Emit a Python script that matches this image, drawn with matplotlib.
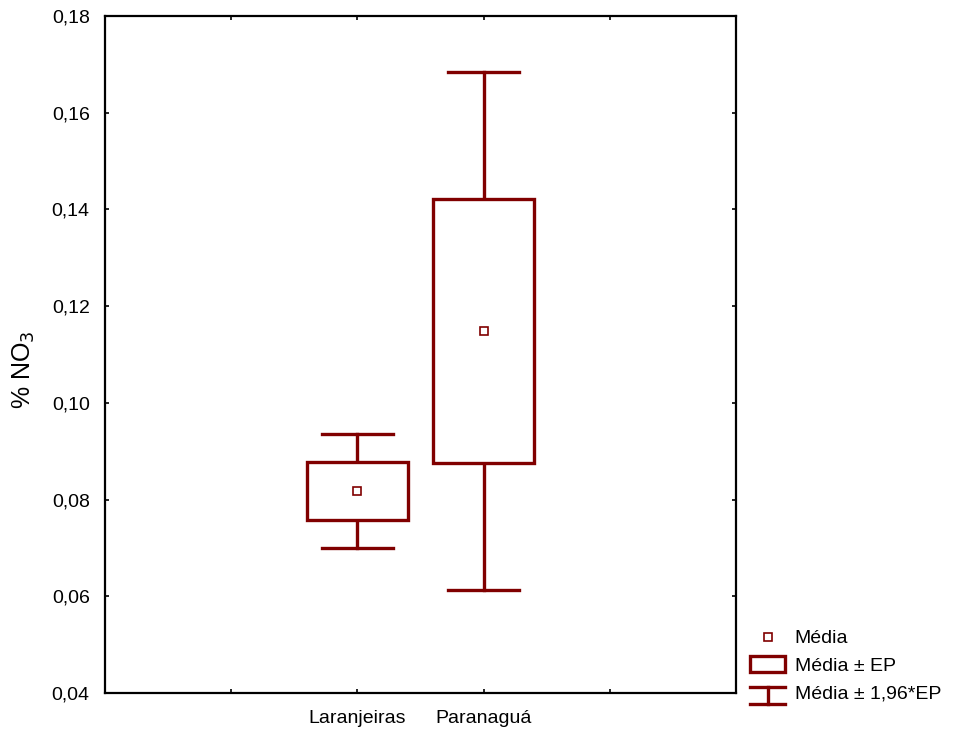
import matplotlib
matplotlib.use("Agg")
import matplotlib.pyplot as plt
from matplotlib.lines import Line2D
from matplotlib.patches import Rectangle
from matplotlib.legend_handler import HandlerBase

plt.rcParams['font.family'] = ['Liberation Sans', 'DejaVu Sans']

categories = ["Laranjeiras", "Paranaguá"]
means = [0.0818, 0.1149]
std_errors = [0.0060, 0.0273]
ci_factor = 1.96
yticks = [0.04, 0.06, 0.08, 0.10, 0.12, 0.14, 0.16, 0.18]
ytick_labels = ["0,04", "0,06", "0,08", "0,10", "0,12", "0,14", "0,16", "0,18"]

color = "#800000"
positions = [2, 3]
box_w = 0.8
cap_w = 0.56
lw = 2.4

fig = plt.figure(figsize=(9.57, 7.29), dpi=100)
ax = fig.add_axes([0.1097, 0.0494, 0.6594, 0.9287])

for pos, m, se in zip(positions, means, std_errors):
    lo, hi = m - se, m + se
    wlo, whi = m - ci_factor * se, m + ci_factor * se
    ax.add_patch(Rectangle((pos - box_w / 2, lo), box_w, hi - lo,
                           facecolor="white", edgecolor=color, lw=lw, zorder=3))
    ax.plot([pos, pos], [hi, whi], color=color, lw=lw, zorder=2)
    ax.plot([pos, pos], [wlo, lo], color=color, lw=lw, zorder=2)
    ax.plot([pos - cap_w / 2, pos + cap_w / 2], [whi, whi], color=color, lw=lw, zorder=2)
    ax.plot([pos - cap_w / 2, pos + cap_w / 2], [wlo, wlo], color=color, lw=lw, zorder=2)
    ax.plot([pos], [m], marker="s", ms=6, mfc="white", mec=color, mew=1.2, zorder=4)

ax.set_xlim(0, 5)
ax.set_ylim(0.04, 0.18)
ax.set_xticks([1, 2, 3, 4])
ax.set_xticklabels(["", categories[0], categories[1], ""], fontsize=14)
ax.set_yticks(yticks)
ax.set_yticklabels(ytick_labels, fontsize=14)
ax.tick_params(direction="in", length=3, width=1.2, top=True, right=True)
ax.tick_params(axis="y", pad=11)
ax.tick_params(axis="x", pad=12)
for s in ax.spines.values():
    s.set_linewidth(1.6)
ax.set_ylabel("% NO$_3$", fontsize=18)
ax.yaxis.set_label_coords(-0.108, 0.478)


class WhiskerHandler(HandlerBase):
    def create_artists(self, legend, orig_handle, xdescent, ydescent,
                       width, height, fontsize, trans):
        x0 = -xdescent
        x1 = x0 + width
        cx = (x0 + x1) / 2
        ytop = height * 0.85
        ybot = -height * 0.45
        arts = [
            Line2D([x0, x1], [ytop, ytop], color=color, lw=lw),
            Line2D([x0, x1], [ybot, ybot], color=color, lw=lw),
            Line2D([cx, cx], [ybot, ytop], color=color, lw=lw),
        ]
        for a in arts:
            a.set_transform(trans)
        return arts


class BoxHandler(HandlerBase):
    def create_artists(self, legend, orig_handle, xdescent, ydescent,
                       width, height, fontsize, trans):
        r = Rectangle((-xdescent, -height * 0.1), width, height * 1.2,
                      facecolor="white", edgecolor=color, lw=lw, transform=trans)
        return [r]


mean_handle = Line2D([], [], ls="none", marker="s", ms=6, mfc="white", mec=color, mew=1.2)
box_handle = Rectangle((0, 0), 1, 1)
whisker_handle = Line2D([], [])

leg = fig.legend([mean_handle, box_handle, whisker_handle],
                 ["Média", "Média ± EP", "Média ± 1,96*EP"],
                 handler_map={Rectangle: BoxHandler(), whisker_handle: WhiskerHandler()},
                 loc="upper left", bbox_to_anchor=(0.7837, 0.136),
                 frameon=False, fontsize=14, handlelength=1.8, handletextpad=0.5,
                 labelspacing=0.5, borderpad=0.0, borderaxespad=0.0)

fig.savefig("out.png", dpi=100)
